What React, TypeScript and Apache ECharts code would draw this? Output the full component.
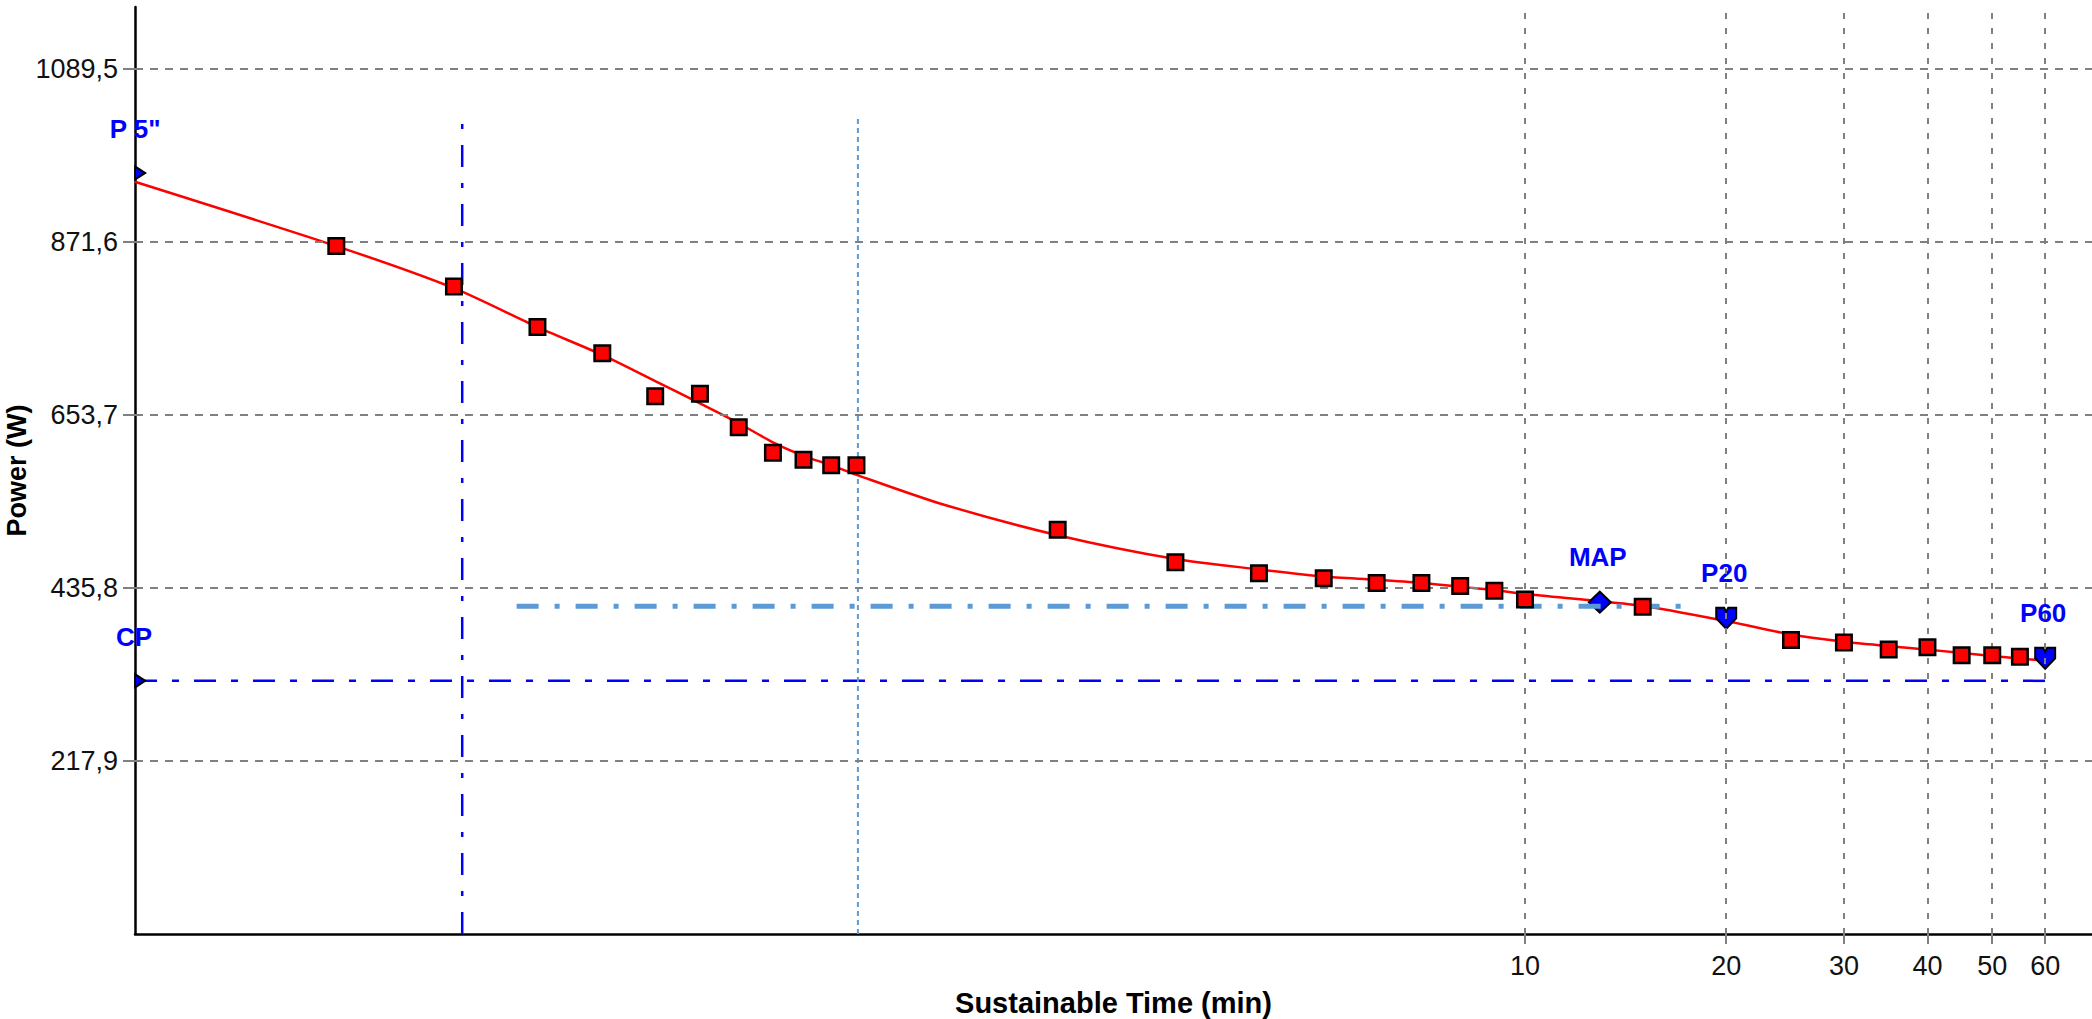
import React, { useEffect, useRef } from 'react';
import * as echarts from 'echarts';

// ---- axis settings / tick labels ----
const xTickValues = [10, 20, 30, 40, 50, 60];
const yTickValues = [217.9, 435.8, 653.7, 871.6, 1089.5];
const X_MIN = 1 / 12; // 5 s in minutes
const X_MAX = 70.5;
const Y_MAX = 1167;

// ---- measured power points (red squares) ----
const squareTimes = [0.1667, 0.25, 0.3333, 0.4167, 0.5, 0.5833, 0.6667, 0.75, 0.8333, 0.9167, 1, 2, 3, 4, 5, 6, 7, 8, 9, 10, 15, 25, 30, 35, 40, 45, 50, 55];
const squarePower = [866, 815, 764, 731, 677, 680, 638, 606, 597, 590, 590, 509, 468, 454, 448, 442, 442, 438, 432, 421, 412, 370, 367, 358, 361, 351, 351, 349];

// ---- fitted curve (red line) ----
const curveTimes = [0.0833, 0.1667, 0.25, 0.3333, 0.4167, 0.5, 0.5833, 0.6667, 0.75, 0.8333, 0.9167, 1, 1.333, 2, 3, 4, 5, 6, 7, 8, 9, 10, 15, 20, 25, 30, 40, 50, 60];
const curvePower = [947, 866, 813, 764, 729, 696, 668, 643, 619, 602, 590, 578, 542, 502, 472, 459, 450, 446, 442, 437, 433, 428, 413, 394, 377, 368, 358, 350, 344];

// ---- key markers ----
const markerNames = ['P 5"', 'CP', 'MAP', 'P20', 'P60'];
const markerTimes = [0.0848, 0.0848, 12.94, 20, 60];
const markerPower = [958, 318.7, 417.7, 397.5, 347.2];

// ---- reference lines ----
const cpLineTimes = [X_MIN, 60];
const cpLinePower = [318.7, 318.7];
const mapLineTimes = [0.3102, 18.01];
const mapLinePower = [412.5, 412.5];
const vLine1Times = [0.2572, 0.2572];
const vLine1Power = [0, 1032];
const vLine2Times = [1.005, 1.005];
const vLine2Power = [0, 1026];

const pairs = (xs: number[], ys: number[]) => xs.map((x, i) => [x, ys[i]]);

const FONT = "'Liberation Sans', Arial, sans-serif";
const BLUE = '#0000FF';
const LIGHTBLUE = '#5B9BD5';

const triRight = 'path://M0,0 L10,6 L0,12 Z';
const downArrow = 'path://M0,0 L4,0 L5,2 L6,0 L10,0 L10,5 L5,10 L0,5 Z';
const diamond = 'path://M5,0 L10,5 L5,10 L0,5 Z';

export default function App() {
  const ref = useRef<HTMLDivElement>(null);

  useEffect(() => {
    if (!ref.current) return;
    const chart = echarts.init(ref.current, undefined, { renderer: 'svg' });

    const markerSymbols = [triRight, triRight, diamond, downArrow, downArrow];
    const markerSizes: any[] = [[10, 13], [10, 13], [22, 21], [20, 21], [20, 21]];
    const markerOffsets: any[] = [[-5, -44], [-6, -44], [-2, -45], [-2, -45], [-2, -45]];

    const option: any = {
      animation: false,
      backgroundColor: '#ffffff',
      grid: { left: 135, right: 0, top: 7, bottom: 85, containLabel: false, outerBoundsMode: 'none' },
      xAxis: {
        type: 'log',
        logBase: 10,
        min: X_MIN,
        max: X_MAX,
        name: 'Sustainable Time (min)',
        nameLocation: 'middle',
        nameGap: 54,
        nameMoveOverlap: false,
        nameTextStyle: { fontFamily: FONT, fontSize: 29, fontWeight: 'bold', color: '#000' },
        axisLine: { show: true, onZero: false, lineStyle: { color: '#000', width: 2.5 } },
        axisTick: { show: true, length: 10, customValues: xTickValues, lineStyle: { color: '#808080', width: 2 } },
        axisLabel: {
          show: true,
          customValues: xTickValues,
          showMinLabel: true,
          showMaxLabel: true,
          margin: 18,
          fontFamily: FONT,
          fontSize: 27,
          color: '#111',
          formatter: (v: number) => String(Math.round(v)),
        },
        splitLine: { show: false },
        minorTick: { show: false },
        minorSplitLine: { show: false },
      },
      yAxis: {
        type: 'value',
        min: 0,
        max: Y_MAX,
        interval: 217.9,
        name: 'Power (W)',
        nameLocation: 'middle',
        nameGap: 105,
        nameRotate: 90,
        nameMoveOverlap: false,
        nameTextStyle: { fontFamily: FONT, fontSize: 27, fontWeight: 'bold', color: '#000' },
        axisLine: { show: true, onZero: false, lineStyle: { color: '#000', width: 2.5 } },
        axisTick: { show: true, length: 12, customValues: yTickValues, lineStyle: { color: '#808080', width: 2 } },
        axisLabel: {
          show: true,
          customValues: yTickValues,
          showMaxLabel: true,
          showMinLabel: true,
          hideOverlap: false,
          margin: 17,
          fontFamily: FONT,
          fontSize: 27,
          color: '#111',
          formatter: (v: number) => v.toFixed(1).replace('.', ','),
        },
        splitLine: { show: false },
      },
      series: [
        {
          name: 'grid',
          type: 'line',
          z: 1,
          data: [[X_MIN, 0]],
          symbol: 'none',
          lineStyle: { opacity: 0 },
          silent: true,
          markLine: {
            silent: true,
            symbol: 'none',
            label: { show: false },
            emphasis: { disabled: true },
            data: [
              ...yTickValues.map((v) => ({ yAxis: v, lineStyle: { color: '#808080', width: 2, type: [8, 7] } })),
              ...xTickValues.map((v) => ({ xAxis: v, lineStyle: { color: '#808080', width: 2, type: [6, 9] } })),
            ],
          },
        },
        {
          name: 'CP line',
          type: 'line',
          z: 2,
          data: pairs(cpLineTimes, cpLinePower),
          symbol: 'none',
          silent: true,
          lineStyle: { color: BLUE, width: 2.5, type: [22, 15, 7, 15] },
        },
        {
          name: 'vertical 1',
          type: 'line',
          z: 2,
          data: pairs(vLine1Times, vLine1Power),
          symbol: 'none',
          silent: true,
          lineStyle: { color: BLUE, width: 2.5, type: [22, 16, 5, 16] },
        },
        {
          name: 'vertical 2',
          type: 'line',
          z: 2,
          data: pairs(vLine2Times, vLine2Power),
          symbol: 'none',
          silent: true,
          lineStyle: { color: LIGHTBLUE, width: 2, type: [5, 4] },
        },
        {
          name: 'curve',
          type: 'line',
          z: 3,
          data: pairs(curveTimes, curvePower),
          symbol: 'none',
          smooth: 0.25,
          silent: true,
          lineStyle: { color: '#FF0000', width: 2.5 },
        },
        {
          name: 'markers',
          type: 'scatter',
          z: 4,
          silent: true,
          data: markerNames.map((n, i) => ({
            name: n,
            value: [markerTimes[i], markerPower[i]],
            symbol: markerSymbols[i],
            symbolSize: markerSizes[i],
            label: {
              show: true,
              position: 'inside',
              offset: markerOffsets[i],
              formatter: n,
              fontFamily: FONT,
              fontSize: 26,
              fontWeight: 'bold',
              color: BLUE,
            },
          })),
          itemStyle: { color: BLUE, borderColor: '#000', borderWidth: 2, opacity: 1 },
        },
        {
          name: 'MAP line',
          type: 'line',
          z: 5,
          data: pairs(mapLineTimes, mapLinePower),
          symbol: 'none',
          silent: true,
          lineStyle: { color: LIGHTBLUE, width: 5, type: [22, 16, 5, 16] },
        },
        {
          name: 'points',
          type: 'scatter',
          z: 6,
          data: pairs(squareTimes, squarePower),
          symbol: 'rect',
          symbolSize: 15.5,
          silent: true,
          itemStyle: { color: '#FF0000', borderColor: '#000', borderWidth: 2.5, opacity: 1 },
        },
      ],
    };

    chart.setOption(option);
    return () => chart.dispose();
  }, []);

  return (
    <div
      ref={ref}
      style={{ position: 'fixed', left: 0, top: 0, width: 2092, height: 1019, background: '#fff' }}
    />
  );
}
